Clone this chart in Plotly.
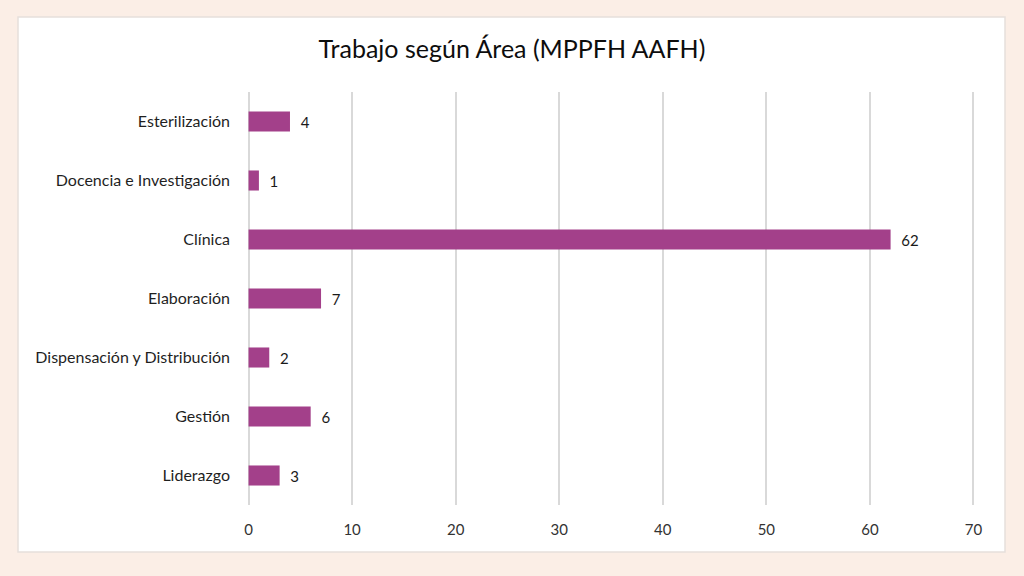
import plotly.graph_objects as go

categories = ["Liderazgo", "Gestión", "Dispensación y Distribución", "Elaboración",
              "Clínica", "Docencia e Investigación", "Esterilización"]
values = [3, 6, 2, 7, 62, 1, 4]
x_ticks = [0, 10, 20, 30, 40, 50, 60, 70]

W, H = 1024, 576
ML, MR, MT, MB = 247, 49, 92, 71
PW, PH = W - ML - MR, H - MT - MB

fig = go.Figure()
fig.add_trace(go.Bar(
    y=categories, x=values, orientation="h",
    marker=dict(color="#A3408A", line=dict(width=0)),
    width=0.34,
    text=["  " + str(v) for v in values], textposition="outside",
    textfont=dict(family="Lato", size=15, color="#1a1a1a"),
    cliponaxis=False,
))

fig.add_shape(type="rect", xref="paper", yref="paper",
              x0=(18 - ML) / PW, x1=(1005 - ML) / PW,
              y0=-(552 - (H - MB)) / PH, y1=1 + (MT - 17) / PH,
              fillcolor="white", line=dict(color="#e6e0dc", width=1.5), layer="below")

fig.update_layout(
    width=W, height=H,
    paper_bgcolor="#FBEEE6", plot_bgcolor="rgba(0,0,0,0)",
    margin=dict(l=ML, r=MR, t=MT, b=MB),
    showlegend=False,
    title=dict(text="Trabajo según Área (MPPFH AAFH)", x=0.5, xanchor="center",
               y=1 - 49 / H, yanchor="middle",
               font=dict(family="Lato", size=25, color="#0d0d0d")),
    xaxis=dict(range=[-0.15, 70.15], tickvals=x_ticks, showgrid=True, gridcolor="#D9D9D9",
               gridwidth=1.5, zeroline=True, zerolinecolor="#D9D9D9", zerolinewidth=1.5,
               showline=False, ticks="",
               tickfont=dict(family="Lato", size=15, color="#333333"), ticklabelstandoff=14),
    yaxis=dict(showgrid=False, zeroline=False, showline=False, ticks="",
               tickfont=dict(family="Lato", size=16, color="#1f1f1f"), ticklabelstandoff=16,
               range=[-0.5, 6.5]),
)
fig.write_html("out.html")
